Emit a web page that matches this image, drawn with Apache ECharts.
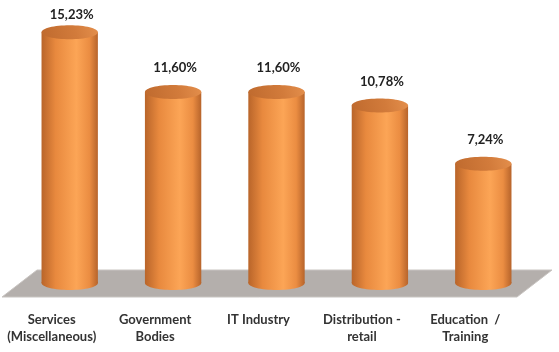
<!DOCTYPE html>
<html>
<head>
<meta charset="utf-8">
<script src="https://cdn.jsdelivr.net/npm/echarts@6/dist/echarts.min.js"></script>
<style>
  html, body { margin: 0; padding: 0; background: #fff; }
  #chart { width: 559px; height: 352px; }
</style>
</head>
<body>
<div id="chart"></div>
<script>
// Sector shares (%)
const categories = ['Services\n(Miscellaneous)', 'Government\nBodies', 'IT Industry', 'Distribution -\nretail', 'Education  /\nTraining'];
const shares = [15.23, 11.60, 11.60, 10.78, 7.24];
const shareLabels = ['15,23%', '11,60%', '11,60%', '10,78%', '7,24%'];

const chart = echarts.init(document.getElementById('chart'));

const bodyFill = () => new echarts.graphic.LinearGradient(0, 0, 1, 0, [
  { offset: 0, color: '#b9652a' },
  { offset: 0.25, color: '#e8893e' },
  { offset: 0.62, color: '#fca556' },
  { offset: 0.85, color: '#eb8d42' },
  { offset: 1, color: '#b7642b' }
]);
const topFill = () => new echarts.graphic.LinearGradient(0, 1, 1, 0, [
  { offset: 0, color: '#bf6a2e' },
  { offset: 0.6, color: '#d27b3b' },
  { offset: 1, color: '#e48f4c' }
]);

// Gray floor under the cylinders, placed relative to the grid
function renderFloor(params, api) {
  const cs = params.coordSys;
  const zero = api.coord([0, 0])[1];
  const skew = 35;
  const top = zero - 13, bottom = zero + 14;
  const left = cs.x - 16, right = cs.x + cs.width + 17;
  return {
    type: 'polygon',
    shape: { points: [[left + skew, top], [right, top], [right - skew, bottom], [left, bottom]] },
    style: { fill: '#b4afac', stroke: '#c8c4c1', lineWidth: 1 }
  };
}

function renderCylinder(params, api) {
  const top = api.coord([api.value(0), api.value(1)]);
  const base = api.coord([api.value(0), 0]);
  const w = api.size([1, 0])[0] * 0.545;
  const rx = w / 2, ry = 7;
  const cx = top[0];
  return {
    type: 'group',
    children: [
      { type: 'ellipse', shape: { cx: cx, cy: base[1], rx: rx, ry: ry }, style: { fill: bodyFill() } },
      { type: 'rect', shape: { x: cx - rx, y: top[1], width: w, height: base[1] - top[1] }, style: { fill: bodyFill() } },
      { type: 'ellipse', shape: { cx: cx, cy: top[1], rx: rx, ry: ry }, style: { fill: topFill() } },
      {
        type: 'text',
        style: {
          x: cx + 2, y: Math.max(15, top[1] - 24),
          text: shareLabels[params.dataIndex],
          align: 'center', verticalAlign: 'middle',
          fontFamily: 'Lato', fontWeight: 'bold', fontSize: 13, fill: '#222'
        }
      }
    ]
  };
}

chart.setOption({
  animation: false,
  grid: { left: 18, right: 24, top: 3, bottom: 69 },
  xAxis: {
    type: 'category',
    data: categories,
    axisLine: { show: false },
    axisTick: { show: false },
    axisLabel: {
      interval: 0,
      margin: 28,
      padding: [0, 36, 0, 0],
      color: '#333',
      fontFamily: 'Lato',
      fontWeight: 'bold',
      fontSize: 13,
      lineHeight: 17
    }
  },
  yAxis: { type: 'value', min: 0, max: 17, show: false },
  series: [
    { type: 'custom', data: [[0, 0]], renderItem: renderFloor, z: 1, silent: true },
    { type: 'custom', data: shares.map((v, i) => [i, v]), renderItem: renderCylinder, z: 2 }
  ]
});
</script>
</body>
</html>
